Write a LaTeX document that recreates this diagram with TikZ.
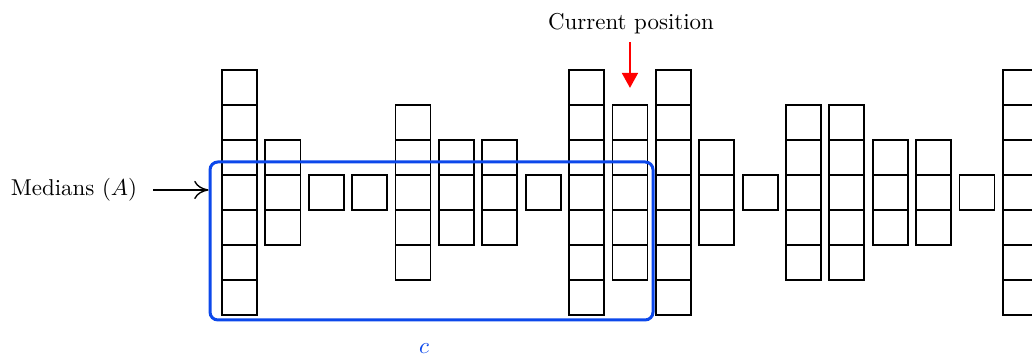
\documentclass[tikz,border=0pt]{standalone}
\usetikzlibrary{arrows.meta,positioning,calc}
\definecolor{winblue}{RGB}{12,72,235}

\begin{document}
\begin{tikzpicture}[
  cell/.style={draw, thick, rectangle, minimum size=0.537cm, inner sep=0pt, outer sep=0pt},
  win/.style={draw=winblue, rectangle, line width=1.3pt, rounded corners=0.12cm, minimum width=6.791cm, minimum height=2.422cm},
  arr/.style={-{To[length=2.2mm, width=2.8mm]}, semithick},
  redarr/.style={-{Triangle[length=2.3mm, width=2.4mm]}, red, very thick}
]
\clip (0,0) rectangle (15.82,5.457);
% columns of cells, centred on the median row
\foreach \h [count=\i] in {7,3,1,1,5,3,3,1,7,5,7,3,1,5,5,3,3,1,7} {
  \foreach \j in {1,...,\h}
    \node[cell] (c\i-\j) at ({3.672+(\i-1)*0.665}, {2.506+((\h+1)/2-\j)*0.537}) {};
}

\node[win] (win) at (6.615,1.763) {};
\node[text=winblue] (clab) at (6.500,0.110) {$c$};

\node (med) at (1.134,2.545) {Medians $(A)$};
\draw[arr, shorten <=0.12cm] (med.east) -- (med.east -| win.west);

\node (curlab) at (9.673,5.090) {Current position};
\draw[redarr, shorten >=0.26cm] (curlab.south -| c10-1.north) -- (c10-1.north);
\end{tikzpicture}
\end{document}
